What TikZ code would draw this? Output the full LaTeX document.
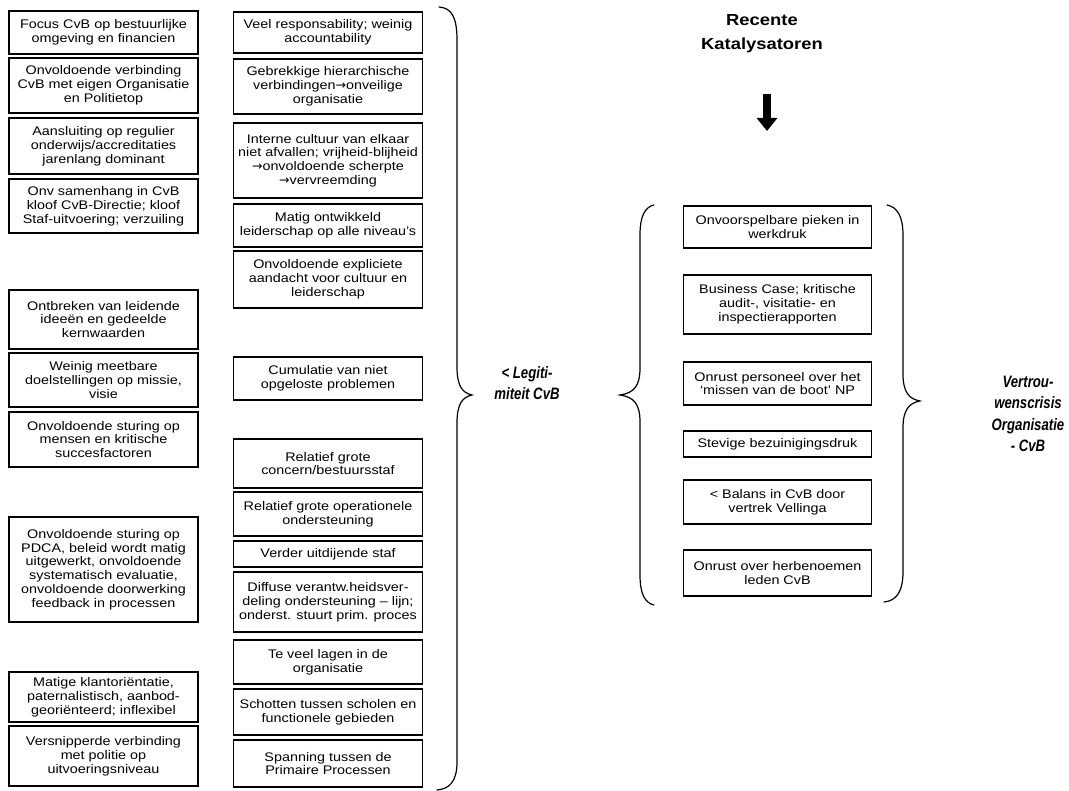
\documentclass[tikz,border=0pt]{standalone}
\usepackage{fontspec}
\setmainfont{Liberation Sans}[FakeStretch=1.15]
\newfontfamily\lblfont{Liberation Sans}[FakeStretch=0.8]
\newfontfamily\symfont{DejaVu Sans}
\usetikzlibrary{arrows.meta}
\newcommand\arr{{\symfont\char"2192}}
\newcommand\mybox[6]{%
  \node[box, minimum width=#3pt, minimum height={#5pt-#4pt}] (#1) at (#2,{(#4+#5)/2}) {#6};}
\begin{document}
\begin{tikzpicture}[x=1pt,y=-1pt,
  box/.style={draw, line width=1.1pt, inner sep=1pt, align=center,
    font=\fontsize{12.5}{13.8}\selectfont},
  brace/.style={draw, line width=1.2pt, line cap=round},
  lbl/.style={align=center, font=\lblfont\bfseries\itshape\fontsize{16.5}{21.5}\selectfont},
  ttl/.style={align=center, font=\bfseries\fontsize{16}{24}\selectfont}]
\useasboundingbox (0,0) rectangle (1069,791);
% left column
\mybox{l1}{103.5}{189}{11}{54}{Focus CvB op bestuurlijke\\omgeving en financien}
\mybox{l2}{103.5}{189}{58}{113}{Onvoldoende verbinding\\CvB met eigen Organisatie\\en Politietop}
\mybox{l3}{103.5}{189}{118}{174}{Aansluiting op regulier\\onderwijs/accreditaties\\jarenlang dominant}
\mybox{l4}{103.5}{189}{179}{233}{Onv samenhang in CvB\\kloof CvB-Directie; kloof\\Staf-uitvoering; verzuiling}
\mybox{l5}{103.5}{189}{290}{349}{Ontbreken van leidende\\ideeën en gedeelde\\kernwaarden}
\mybox{l6}{103.5}{189}{353}{407}{Weinig meetbare\\doelstellingen op missie,\\visie}
\mybox{l7}{103.5}{189}{412}{467}{Onvoldoende sturing op\\mensen en kritische\\succesfactoren}
\mybox{l8}{103.5}{189}{517}{622}{Onvoldoende sturing op\\PDCA, beleid wordt matig\\uitgewerkt, onvoldoende\\systematisch evaluatie,\\onvoldoende doorwerking\\feedback in processen}
\mybox{l9}{103.5}{189}{672}{722}{Matige klantoriëntatie,\\paternalistisch, aanbod-\\georiënteerd; inflexibel}
\mybox{l10}{103.5}{189}{726}{786}{Versnipperde verbinding\\met politie op\\uitvoeringsniveau}
% middle column
\mybox{m1}{328}{189}{12}{53}{Veel responsability; weinig\\accountability}
\mybox{m2}{328}{189}{59}{114}{Gebrekkige hierarchische\\verbindingen\arr onveilige\\organisatie}
\mybox{m3}{328}{189}{123}{198}{Interne cultuur van elkaar\\niet afvallen; vrijheid-blijheid\\\arr onvoldoende scherpte\\\arr vervreemding}
\mybox{m4}{328}{189}{204}{247}{Matig ontwikkeld\\leiderschap op alle niveau's}
\mybox{m5}{328}{189}{251}{308}{Onvoldoende expliciete\\aandacht voor cultuur en\\leiderschap}
\mybox{m6}{328}{189}{357}{400}{Cumulatie van niet\\opgeloste problemen}
\mybox{m7}{328}{189}{439}{488}{Relatief grote\\concern/bestuursstaf}
\mybox{m8}{328}{189}{492}{536}{Relatief grote operationele\\ondersteuning}
\mybox{m9}{328}{189}{541}{567}{Verder uitdijende staf}
\mybox{m10}{328}{189}{572}{632}{Diffuse verantw.heidsver-\\deling ondersteuning – lijn;\\onderst. stuurt prim. proces}
\mybox{m11}{328}{189}{640}{684}{Te veel lagen in de\\organisatie}
\mybox{m12}{328}{189}{689}{735}{Schotten tussen scholen en\\functionele gebieden}
\mybox{m13}{328}{189}{740}{787}{Spanning tussen de\\Primaire Processen}
% right column
\mybox{r1}{777.5}{188}{206}{248}{Onvoorspelbare pieken in\\werkdruk}
\mybox{r2}{777.5}{188}{275}{334}{Business Case; kritische\\audit-, visitatie- en\\inspectierapporten}
\mybox{r3}{777.5}{188}{362}{405}{Onrust personeel over het\\‘missen van de boot’ NP}
\mybox{r4}{777.5}{188}{431}{457}{Stevige bezuinigingsdruk}
\mybox{r5}{777.5}{188}{480}{524}{< Balans in CvB door\\vertrek Vellinga}
\mybox{r6}{777.5}{188}{550}{596}{Onrust over herbenoemen\\leden CvB}
% braces
\path[brace] (439,7) .. controls (451,8) and (457,16) .. (457,40) -- (457,367)
  .. controls (457,387) and (463,393) .. (472,395)
  .. controls (463,397) and (457,403) .. (457,423) -- (457,762)
  .. controls (457,782) and (449,789) .. (437,790);
\path[brace] (654,205) .. controls (645,207) and (640,216) .. (640,235) -- (640,368)
  .. controls (640,386) and (634,393) .. (620,395)
  .. controls (634,397) and (640,404) .. (640,422) -- (640,575)
  .. controls (640,594) and (645,603) .. (654,605);
\path[brace] (887,205) .. controls (897,207) and (903,216) .. (903,235) -- (903,374)
  .. controls (903,392) and (909,399) .. (920,401)
  .. controls (909,403) and (903,410) .. (903,428) -- (903,572)
  .. controls (903,592) and (896,601) .. (884,602);
% labels
\node[ttl] (title) at (762,34) {Recente\\Katalysatoren};
\node[lbl] (legit) at (527,383) {< Legiti-\\miteit CvB};
\node[lbl] (crisis) at (1028,414) {Vertrou-\\wenscrisis\\Organisatie\\- CvB};
% arrow
\coordinate (atop) at (767,94);
\coordinate (abot) at (767,131);
\draw[line width=8pt, -{Triangle[width=20pt,length=13pt]}] (atop) -- (abot);
\end{tikzpicture}
\end{document}
